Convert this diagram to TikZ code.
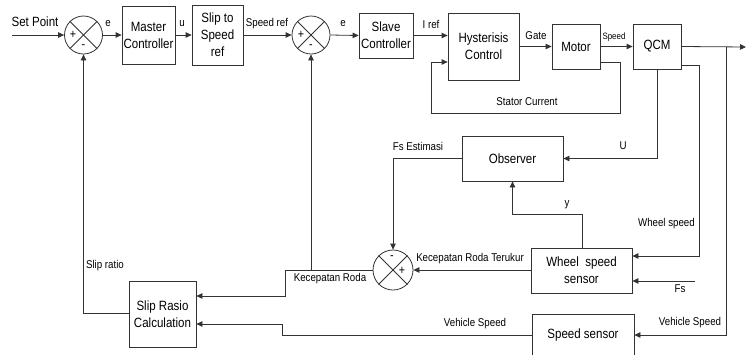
\documentclass[tikz,border=0pt]{standalone}
\usepackage{fontspec}
\setmainfont[FakeStretch=0.86]{Liberation Sans}
\usetikzlibrary{arrows.meta}
\begin{document}
\begin{tikzpicture}[x=1pt,y=-1pt,
  box/.style={draw=black!80, line width=0.8pt, inner sep=0pt, align=center, font=\fontsize{13.4}{17}\selectfont},
  sumnode/.style={draw=black!80, line width=0.8pt, circle, inner sep=0pt, minimum size=#1},
  lbl/.style={font=\fontsize{11.3}{12}\selectfont, inner sep=0pt},
  big/.style={font=\fontsize{13.4}{15}\selectfont, inner sep=0pt},
  tiny/.style={font=\fontsize{9.2}{10}\selectfont, inner sep=0pt},
  sgn/.style={font=\fontsize{12.5}{12}\selectfont, inner sep=0pt},
  conn/.style={draw=black!80, line width=0.8pt},
  arr/.style={conn, -{Triangle[length=6pt,width=5.5pt]}}]
\path[use as bounding box] (0,0) rectangle (746,354);
\clip (0,0) rectangle (746,354);

% blocks
\node[box, minimum width=53pt, minimum height=58pt] (master) at (148.5,35) {Master\\Controller};
\node[box, minimum width=51pt, minimum height=60pt] (slip2speed) at (217.5,35) {Slip to\\Speed\\ref};
\node[box, minimum width=54pt, minimum height=45pt] (slave) at (386,35.5) {Slave\\Controller};
\node[box, minimum width=71pt, minimum height=67pt] (hyst) at (483.5,46.5) {Hysterisis\\Control};
\node[box, minimum width=48pt, minimum height=45pt] (motor) at (576,46.5) {Motor};
\node[box, minimum width=48pt, minimum height=45pt] (qcm) at (657,46.5) {QCM};
\node[box, minimum width=101pt, minimum height=45pt] (observer) at (512.5,158.5) {Observer};
\node[box, minimum width=101pt, minimum height=45pt] (wss) at (581.5,270.5) {Wheel\ \ speed\\sensor};
\node[box, minimum width=67pt, minimum height=66pt] (slipcalc) at (162.5,314) {Slip Rasio\\Calculation};
\node[box, minimum width=102pt, minimum height=42pt] (speedsensor) at (583,335) {Speed sensor};

% summing junctions
\node[sumnode=38pt] (s1) at (83.5,35) {};
\node[sumnode=38pt] (s2) at (311,35) {};
\node[sumnode=40pt] (s3) at (393,270) {};
\foreach \s in {s1,s2,s3}{
  \draw[conn] (\s.north west) -- (\s.south east);
  \draw[conn] (\s.north east) -- (\s.south west);
}
\node[sgn] (s1p) at (73,35) {+};
\node[sgn] (s1m) at (83.5,47) {-};
\node[sgn] (s2p) at (301,35) {+};
\node[sgn] (s2m) at (311,47) {-};
\node[sgn] (s3m) at (392,258) {-};
\node[sgn] (s3p) at (402,271) {+};

% free ends and bends
\coordinate (spin) at (12,35);
\coordinate (outend) at (746,47);
\coordinate (qcmsplit) at (726,47);
\coordinate (fsin) at (695,281);

% forward path
\draw[arr] (spin) -- (s1.west);
\draw[arr] (s1.east) -- (master.west);
\draw[arr] (master.east) -- (slip2speed.west);
\draw[arr] (slip2speed.east) -- (s2.west);
\draw[arr] (s2.east) -- (slave.west);
\draw[arr] (slave.east) -- (hyst.west |- slave.east);
\draw[arr] (hyst.east |- motor.west) -- (motor.west);
\draw[arr] (motor.east) -- (qcm.west);
\draw[arr] (qcm.east) -- (outend);

% stator current loop
\draw[arr] (motor.east |- 0,62) -- (620,62) -- (620,113) -- (431,113) -- (431,62) -- (hyst.west |- 0,62);

% U to observer
\draw[arr] (qcm.south) -- (qcm.south |- observer.east) -- (observer.east);
% Fs estimasi
\draw[arr] (observer.west) -- (s3.north |- observer.west) -- (s3.north);
% y
\draw[arr] (582,248) -- (582,214) -- (observer.south |- 0,214) -- (observer.south);
% wheel speed
\draw[arr] (qcm.east |- 0,65) -- (699,65) -- (699,256) -- (wss.east |- 0,256);
% Fs
\draw[arr] (fsin) -- (wss.east |- fsin);
% Kecepatan roda terukur
\draw[arr] (wss.west |- s3.east) -- (s3.east);
% Kecepatan roda
\draw[arr] (s3.west) -- (285,270) -- (285,296) -- (slipcalc.east |- 0,296);
\draw[arr] (s2.south |- s3.west) -- (s2.south);
% slip ratio
\draw[arr] (slipcalc.west |- 0,313) -- (s1.south |- 0,313) -- (s1.south);
% vehicle speed
\draw[arr] (qcmsplit) -- (726,335) -- (speedsensor.east);
\draw[arr] (speedsensor.west) -- (282,335) -- (282,324) -- (slipcalc.east |- 0,324);

% labels
\node[big] (lsp) at (35,22) {Set Point};
\node[lbl] (le1) at (108,24) {e};
\node[lbl] (lu) at (182,24) {u};
\node[lbl] (lsr) at (267,24) {Speed ref};
\node[lbl] (le2) at (343,24) {e};
\node[lbl] (lir) at (431,24) {I ref};
\node[lbl] (lgate) at (536,36) {Gate};
\node[tiny] (lspeed) at (614,37) {Speed};
\node[lbl] (lsc) at (527,102) {Stator Current};
\node[lbl] (lU) at (623,146) {U};
\node[lbl] (lfs) at (418,146) {Fs Estimasi};
\node[lbl] (ly) at (567,205) {y};
\node[lbl, anchor=east] (lws) at (695,224) {Wheel speed};
\node[lbl] (lfsin) at (680,289) {Fs};
\node[lbl] (lkrt) at (470,259) {Kecepatan Roda Terukur};
\node[lbl] (lkr) at (330,279) {Kecepatan Roda};
\node[lbl] (lslr) at (105,266) {Slip ratio};
\node[lbl] (lvs1) at (475,324) {Vehicle Speed};
\node[lbl] (lvs2) at (690,323) {Vehicle Speed};
\end{tikzpicture}
\end{document}
